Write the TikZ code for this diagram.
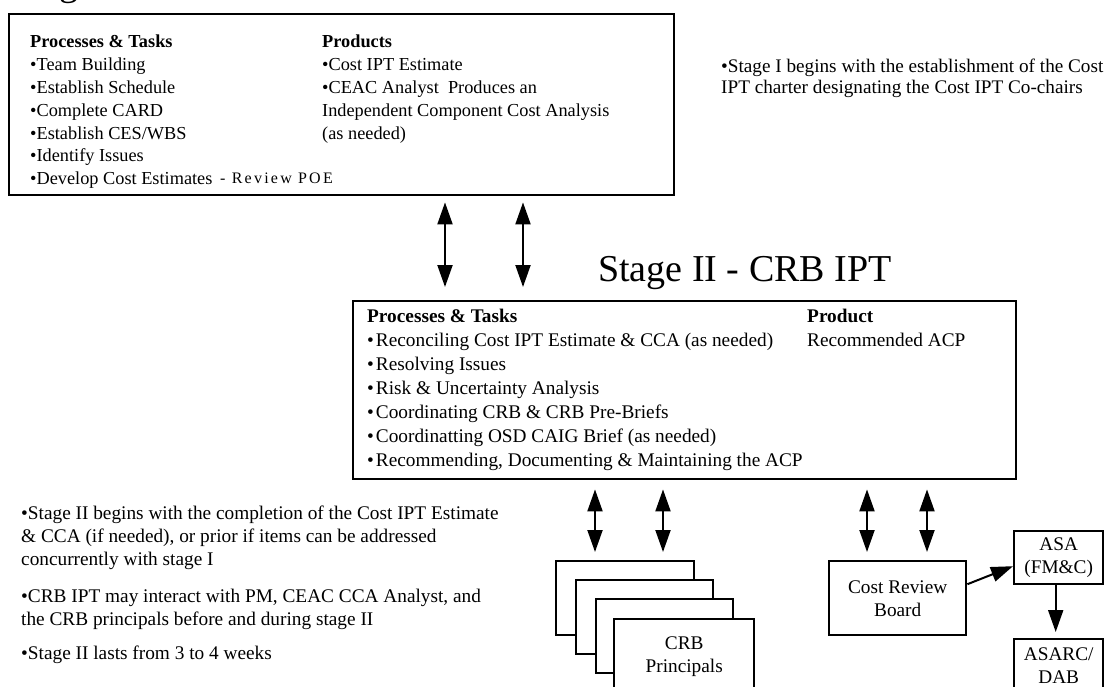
\documentclass[tikz,border=0pt]{standalone}
\usepackage{fontspec}
\setmainfont{Liberation Serif}
\usetikzlibrary{arrows.meta}
\begin{document}
\begin{tikzpicture}[x=1pt,y=-1pt,
  box/.style={draw, line width=2.4pt, inner sep=0pt, anchor=north west, fill=white, align=center},
  dbl/.style={line width=2pt, {Triangle[length=22pt,width=15pt]}-{Triangle[length=22pt,width=15pt]}},
  sgl/.style={line width=2pt, -{Triangle[length=22pt,width=15pt]}},
  txt/.style={inner sep=0pt, anchor=base west},
  ftop/.style={font=\fontsize{18.3}{22.8}\selectfont},
  fmid/.style={font=\fontsize{19.3}{24}\selectfont},
  fnote/.style={font=\fontsize{19.3}{23}\selectfont},
  fbox/.style={font=\fontsize{19.3}{23}\selectfont},
  ftitle/.style={font=\fontsize{38}{43}\selectfont}
]
\useasboundingbox (0,0) rectangle (1113,687);
\clip (0,0) rectangle (1113,687);
\fill[white] (0,0) rectangle (1113,687);

% Stage I
\node[txt, ftitle] (t1) at (11,-4) {Stage I - Cost IPT};
\node[box, minimum width=665pt, minimum height=181pt] (s1) at (8,13) {};
\node[txt, ftop] (s1a) at (30,48) {\begin{tabular}[t]{@{}l@{}}
\textbf{Processes \& Tasks}\\
•Team Building\\
•Establish Schedule\\
•Complete CARD\\
•Establish CES/WBS\\
•Identify Issues\\
•Develop Cost Estimates
\end{tabular}};
\node[txt, ftop] (s1b) at (322,48) {\begin{tabular}[t]{@{}l@{}}
\textbf{Products}\\
•Cost IPT Estimate\\
•CEAC Analyst\ \ Produces an\\
Independent Component Cost Analysis\\
(as needed)
\end{tabular}};
\node[txt, font=\fontsize{16}{19}\selectfont\addfontfeatures{LetterSpace=14}] (poe) at (220,184) {- Review POE};

\node[txt, font=\fontsize{19.2}{21}\selectfont] (n1) at (721,73) {\begin{tabular}[t]{@{}l@{}}
•Stage I begins with the establishment of the Cost\\
IPT charter designating the Cost IPT Co-chairs
\end{tabular}};

% Stage II
\node[txt, ftitle] (t2) at (598,281) {Stage II - CRB IPT};
\node[box, minimum width=663pt, minimum height=178pt] (s2) at (352,300) {};
\node[txt, fmid] (s2a) at (367,322) {\begin{tabular}[t]{@{}l@{}}
\textbf{Processes \& Tasks}\\
•\kern2pt Reconciling Cost IPT Estimate \& CCA (as needed)\\
•\kern2pt Resolving Issues\\
•\kern2pt Risk \& Uncertainty Analysis\\
•\kern2pt Coordinating CRB \& CRB Pre-Briefs\\
•\kern2pt Coordinatting OSD CAIG Brief (as needed)\\
•\kern2pt Recommending, Documenting \& Maintaining the ACP
\end{tabular}};
\node[txt, fmid] (s2b) at (807,322) {\begin{tabular}[t]{@{}l@{}}
\textbf{Product}\\
Recommended ACP
\end{tabular}};

\node[txt, fnote] (n2) at (21,519) {\begin{tabular}[t]{@{}l@{}}
•Stage II begins with the completion of the Cost IPT Estimate\\
\& CCA (if needed), or prior if items can be addressed\\
concurrently with stage I\\[14pt]
•CRB IPT may interact with PM, CEAC CCA Analyst, and\\
the CRB principals before and during stage II\\[11pt]
•Stage II lasts from 3 to 4 weeks
\end{tabular}};

% CRB principals stack
\node[box, minimum width=138pt, minimum height=74pt] (r1) at (555,560) {};
\node[box, minimum width=137pt, minimum height=74pt] (r2) at (575,579) {};
\node[box, minimum width=137pt, minimum height=74pt] (r3) at (595,598) {};
\node[box, fbox, minimum width=140pt, minimum height=74pt] (r4) at (613,618) {CRB\\Principals};

% Review chain
\node[box, fbox, minimum width=137pt, minimum height=74pt] (crb) at (828,560) {Cost Review\\Board};
\node[box, fbox, minimum width=89pt, minimum height=53pt] (asa) at (1013,530) {ASA\\(FM\&C)};
\node[box, fbox, minimum width=89pt, minimum height=53pt] (asarc) at (1013,638) {ASARC/\\DAB};

% connectors
\coordinate (xa) at (445,0);
\coordinate (xb) at (523,0);
\coordinate (xc) at (595,0);
\coordinate (xd) at (663,0);
\coordinate (xe) at (867,0);
\coordinate (xf) at (927,0);
\draw[dbl, shorten <=6pt, shorten >=13pt] (s1.south -| xa) -- (s2.north -| xa);
\draw[dbl, shorten <=6pt, shorten >=13pt] (s1.south -| xb) -- (s2.north -| xb);
\draw[dbl, shorten <=9pt, shorten >=8pt] (s2.south -| xc) -- (r1.north -| xc);
\draw[dbl, shorten <=9pt, shorten >=8pt] (s2.south -| xd) -- (r1.north -| xd);
\draw[dbl, shorten <=9pt, shorten >=8pt] (s2.south -| xe) -- (crb.north -| xe);
\draw[dbl, shorten <=9pt, shorten >=8pt] (s2.south -| xf) -- (crb.north -| xf);
\draw[sgl] ([yshift=14pt]crb.east) -- ([yshift=-8.5pt]asa.west);
\draw[sgl, shorten >=6pt] ([xshift=-3pt]asa.south) -- ([xshift=-3pt]asarc.north);
\end{tikzpicture}
\end{document}
